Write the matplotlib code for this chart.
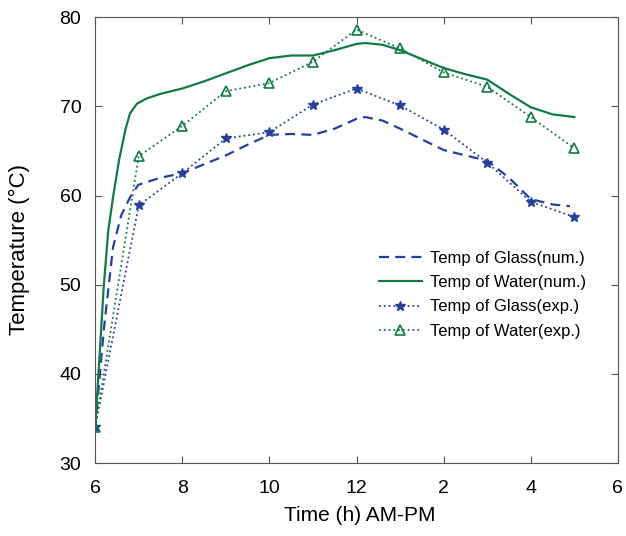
import matplotlib
matplotlib.use("Agg")
import matplotlib.pyplot as plt

plt.rcParams['font.family'] = ['Liberation Sans', 'DejaVu Sans']

# time in hours (6 = 6 AM, 13 = 1 PM ...)
t_exp = [6, 7, 8, 9, 10, 11, 12, 13, 14, 15, 16, 17]
glass_exp = [34.0, 58.9, 62.5, 66.4, 67.1, 70.2, 72.0, 70.1, 67.4, 63.7, 59.3, 57.6]
water_exp = [34.0, 64.4, 67.8, 71.7, 72.6, 75.0, 78.6, 76.5, 73.8, 72.2, 68.8, 65.3]

t_water_num = [6, 6.1, 6.2, 6.3, 6.41, 6.55, 6.7, 6.8, 6.96, 7.19, 7.5, 8, 8.5, 9, 9.5,
               10, 10.5, 11, 11.5, 12, 12.2, 12.6, 13, 13.5, 14, 14.5, 15, 15.5, 16, 16.5, 17]
water_num = [34.0, 42.0, 50.0, 56.0, 59.8, 64.0, 67.5, 69.2, 70.3, 70.9, 71.4, 72.0, 72.8, 73.7, 74.6,
             75.4, 75.7, 75.7, 76.3, 77.0, 77.1, 76.9, 76.3, 75.3, 74.3, 73.6, 73.0, 71.4, 69.9, 69.1, 68.8]

t_glass_num = [6, 6.2, 6.41, 6.6, 6.8, 6.99, 7.5, 8, 8.5, 9, 9.5, 10, 10.5, 11, 11.5,
               12, 12.2, 12.6, 13, 13.5, 14, 14.5, 15, 15.5, 16, 16.5, 16.9]
glass_num = [34.0, 45.0, 54.2, 57.8, 59.8, 61.2, 62.0, 62.5, 63.5, 64.5, 65.7, 66.8, 66.9, 66.8, 67.5,
             68.6, 68.8, 68.4, 67.5, 66.3, 65.1, 64.5, 63.9, 62.0, 59.6, 59.0, 58.8]

xticks = [6, 8, 10, 12, 14, 16, 18]
xticklabels = ['6', '8', '10', '12', '2', '4', '6']
yticks = [30, 40, 50, 60, 70, 80]

blue = '#28409c'
green = '#137a45'

fig = plt.figure(figsize=(6.26, 5.36), dpi=100)
ax = fig.add_axes([0.152, 0.136, 0.835, 0.832])

ax.plot(t_glass_num, glass_num, linestyle=(0, (4.5, 2.8)), color=blue, lw=1.6,
        label='Temp of Glass(num.)')
ax.plot(t_water_num, water_num, linestyle='-', color=green, lw=1.6,
        label='Temp of Water(num.)')
ax.plot(t_exp, glass_exp, linestyle=':', color=blue, lw=1.3, marker='*', ms=7,
        label='Temp of Glass(exp.)')
ax.plot(t_exp, water_exp, linestyle=':', color=green, lw=1.3, marker='^', ms=7,
        mfc='none', mec=green, mew=1.2, label='Temp of Water(exp.)')

ax.set_xlim(6, 18)
ax.set_ylim(30, 80)
ax.set_xticks(xticks)
ax.set_xticklabels(xticklabels)
ax.set_yticks(yticks)
ax.tick_params(direction='in', top=True, right=True, length=5, labelsize=14,
               color='#555555')
ax.tick_params(axis='x', pad=12)
ax.tick_params(axis='y', pad=10)
for s in ax.spines.values():
    s.set_color('#555555')

ax.set_xlabel('Time (h) AM-PM', fontsize=15)
ax.set_ylabel('Temperature (°C)', fontsize=16)
ax.xaxis.set_label_coords(0.507, -0.096)
ax.yaxis.set_label_coords(-0.125, 0.478)

leg = ax.legend(loc='upper left', bbox_to_anchor=(0.514, 0.51), frameon=False,
                fontsize=12, handlelength=2.6, labelspacing=0.56, handletextpad=0.5)

fig.savefig('out.png', dpi=100)
